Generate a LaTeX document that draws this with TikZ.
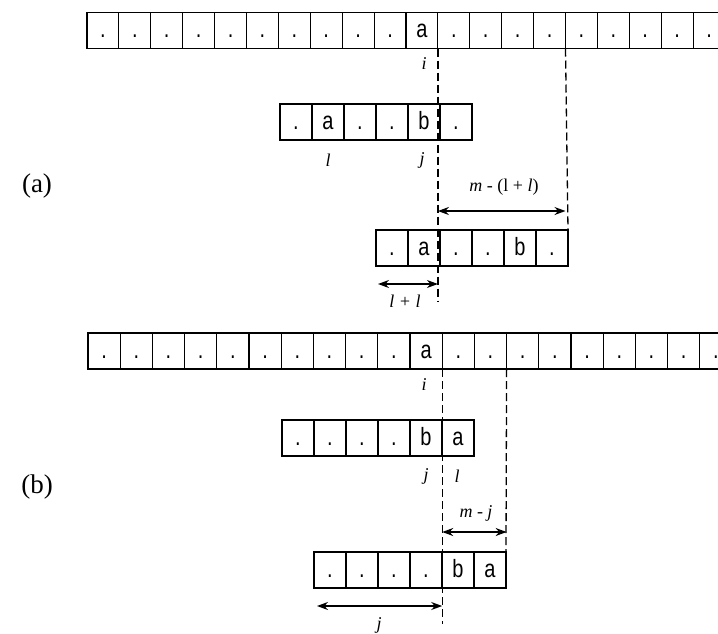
\documentclass[tikz,border=0pt]{standalone}
\usepackage{fontspec}
\setmainfont{Liberation Serif}
\newfontfamily\cellfont{Liberation Sans}
\usetikzlibrary{arrows.meta}
\newcommand\mkrow[5]{%
  \foreach \c [count=\k from 0] in {#5} {%
    \node[cellbox, minimum width=#3pt] (#1-\k) at ({#2+#3*(\k+0.5)}, #4) {\scalebox{0.8}[1]{\c}};
  }%
}
\begin{document}
\begin{tikzpicture}[x=1pt,y=-1pt,
  cellbox/.style={draw, line width=1.1pt, minimum height=36pt, inner sep=0pt, outer sep=0pt,
    font=\cellfont\fontsize{25}{25}\selectfont, text height=14pt, text depth=0pt},
  lab/.style={font=\fontsize{18}{18}\selectfont\itshape, inner sep=0pt},
  part/.style={font=\fontsize{27}{27}\selectfont, inner sep=0pt},
  guide/.style={dash pattern=on 8pt off 4pt, line width=1.3pt},
  dim/.style={{Stealth[length=11pt,width=8pt]}-{Stealth[length=11pt,width=8pt]}, line width=1.3pt}]
\useasboundingbox (0,0) rectangle (718,633);

% ---------------- (a) ----------------
\mkrow{ta}{87}{31.9}{30.5}{.,.,.,.,.,.,.,.,.,.,a,.,.,.,.,.,.,.,.,.}
\mkrow{a2}{280}{32}{122}{.,a,.,.,b,.}
\mkrow{a3}{376}{32}{248}{.,a,.,.,b,.}

\node[lab] (ai) at (424,64) {i};
\node[lab] (al) at (328,160) {l};
\node[lab] (aj) at (422,160) {j};
\node[part] (pa) at (37,186) {(a)};

\coordinate (aend) at (ta-10.south east |- 0,302);
\draw[guide] (ta-10.south east) -- (aend);
\draw[guide] (ta-14.south east) -- (a3-5.north east);

\coordinate (am1) at (ta-10.south east |- 0,211);
\coordinate (am2) at (ta-14.south east |- 0,211);
\draw[dim] (am1) -- (am2);
\node[lab, font=\fontsize{18}{18}\selectfont] (aml) at (504,187) {\textit{m} - (l + \textit{l})};

\coordinate (al1) at (378,284);
\coordinate (al2) at (ta-10.south east |- 0,284);
\draw[dim] (al1) -- (al2);
\node[lab] (all) at (405,301) {l + l};

% ---------------- (b) ----------------
\mkrow{tb}{88}{32.2}{351}{.,.,.,.,.,.,.,.,.,.,a,.,.,.,.,.,.,.,.,.}
\mkrow{b2}{282}{32}{438}{.,.,.,.,b,a}
\mkrow{b3}{314}{32}{570}{.,.,.,.,b,a}

\node[lab] (bi) at (424,385) {i};
\node[lab] (bj) at (426,476) {j};
\node[lab] (bl) at (457,476) {l};
\node[part] (pb) at (37,487) {(b)};

\coordinate (bend) at (tb-10.south east |- 0,624);
\draw[guide] (tb-10.south east) -- (bend);
\draw[guide] (tb-12.south east) -- (b3-5.north east);

\coordinate (bm1) at (tb-10.south east |- 0,532);
\coordinate (bm2) at (tb-12.south east |- 0,532);
\draw[dim] (bm1) -- (bm2);
\node[lab] (bml) at (476,513) {m - j};

\coordinate (bj1) at (317,606);
\coordinate (bj2) at (tb-10.south east |- 0,606);
\draw[dim] (bj1) -- (bj2);
\node[lab] (bjl) at (379,625) {j};
\end{tikzpicture}
\end{document}
